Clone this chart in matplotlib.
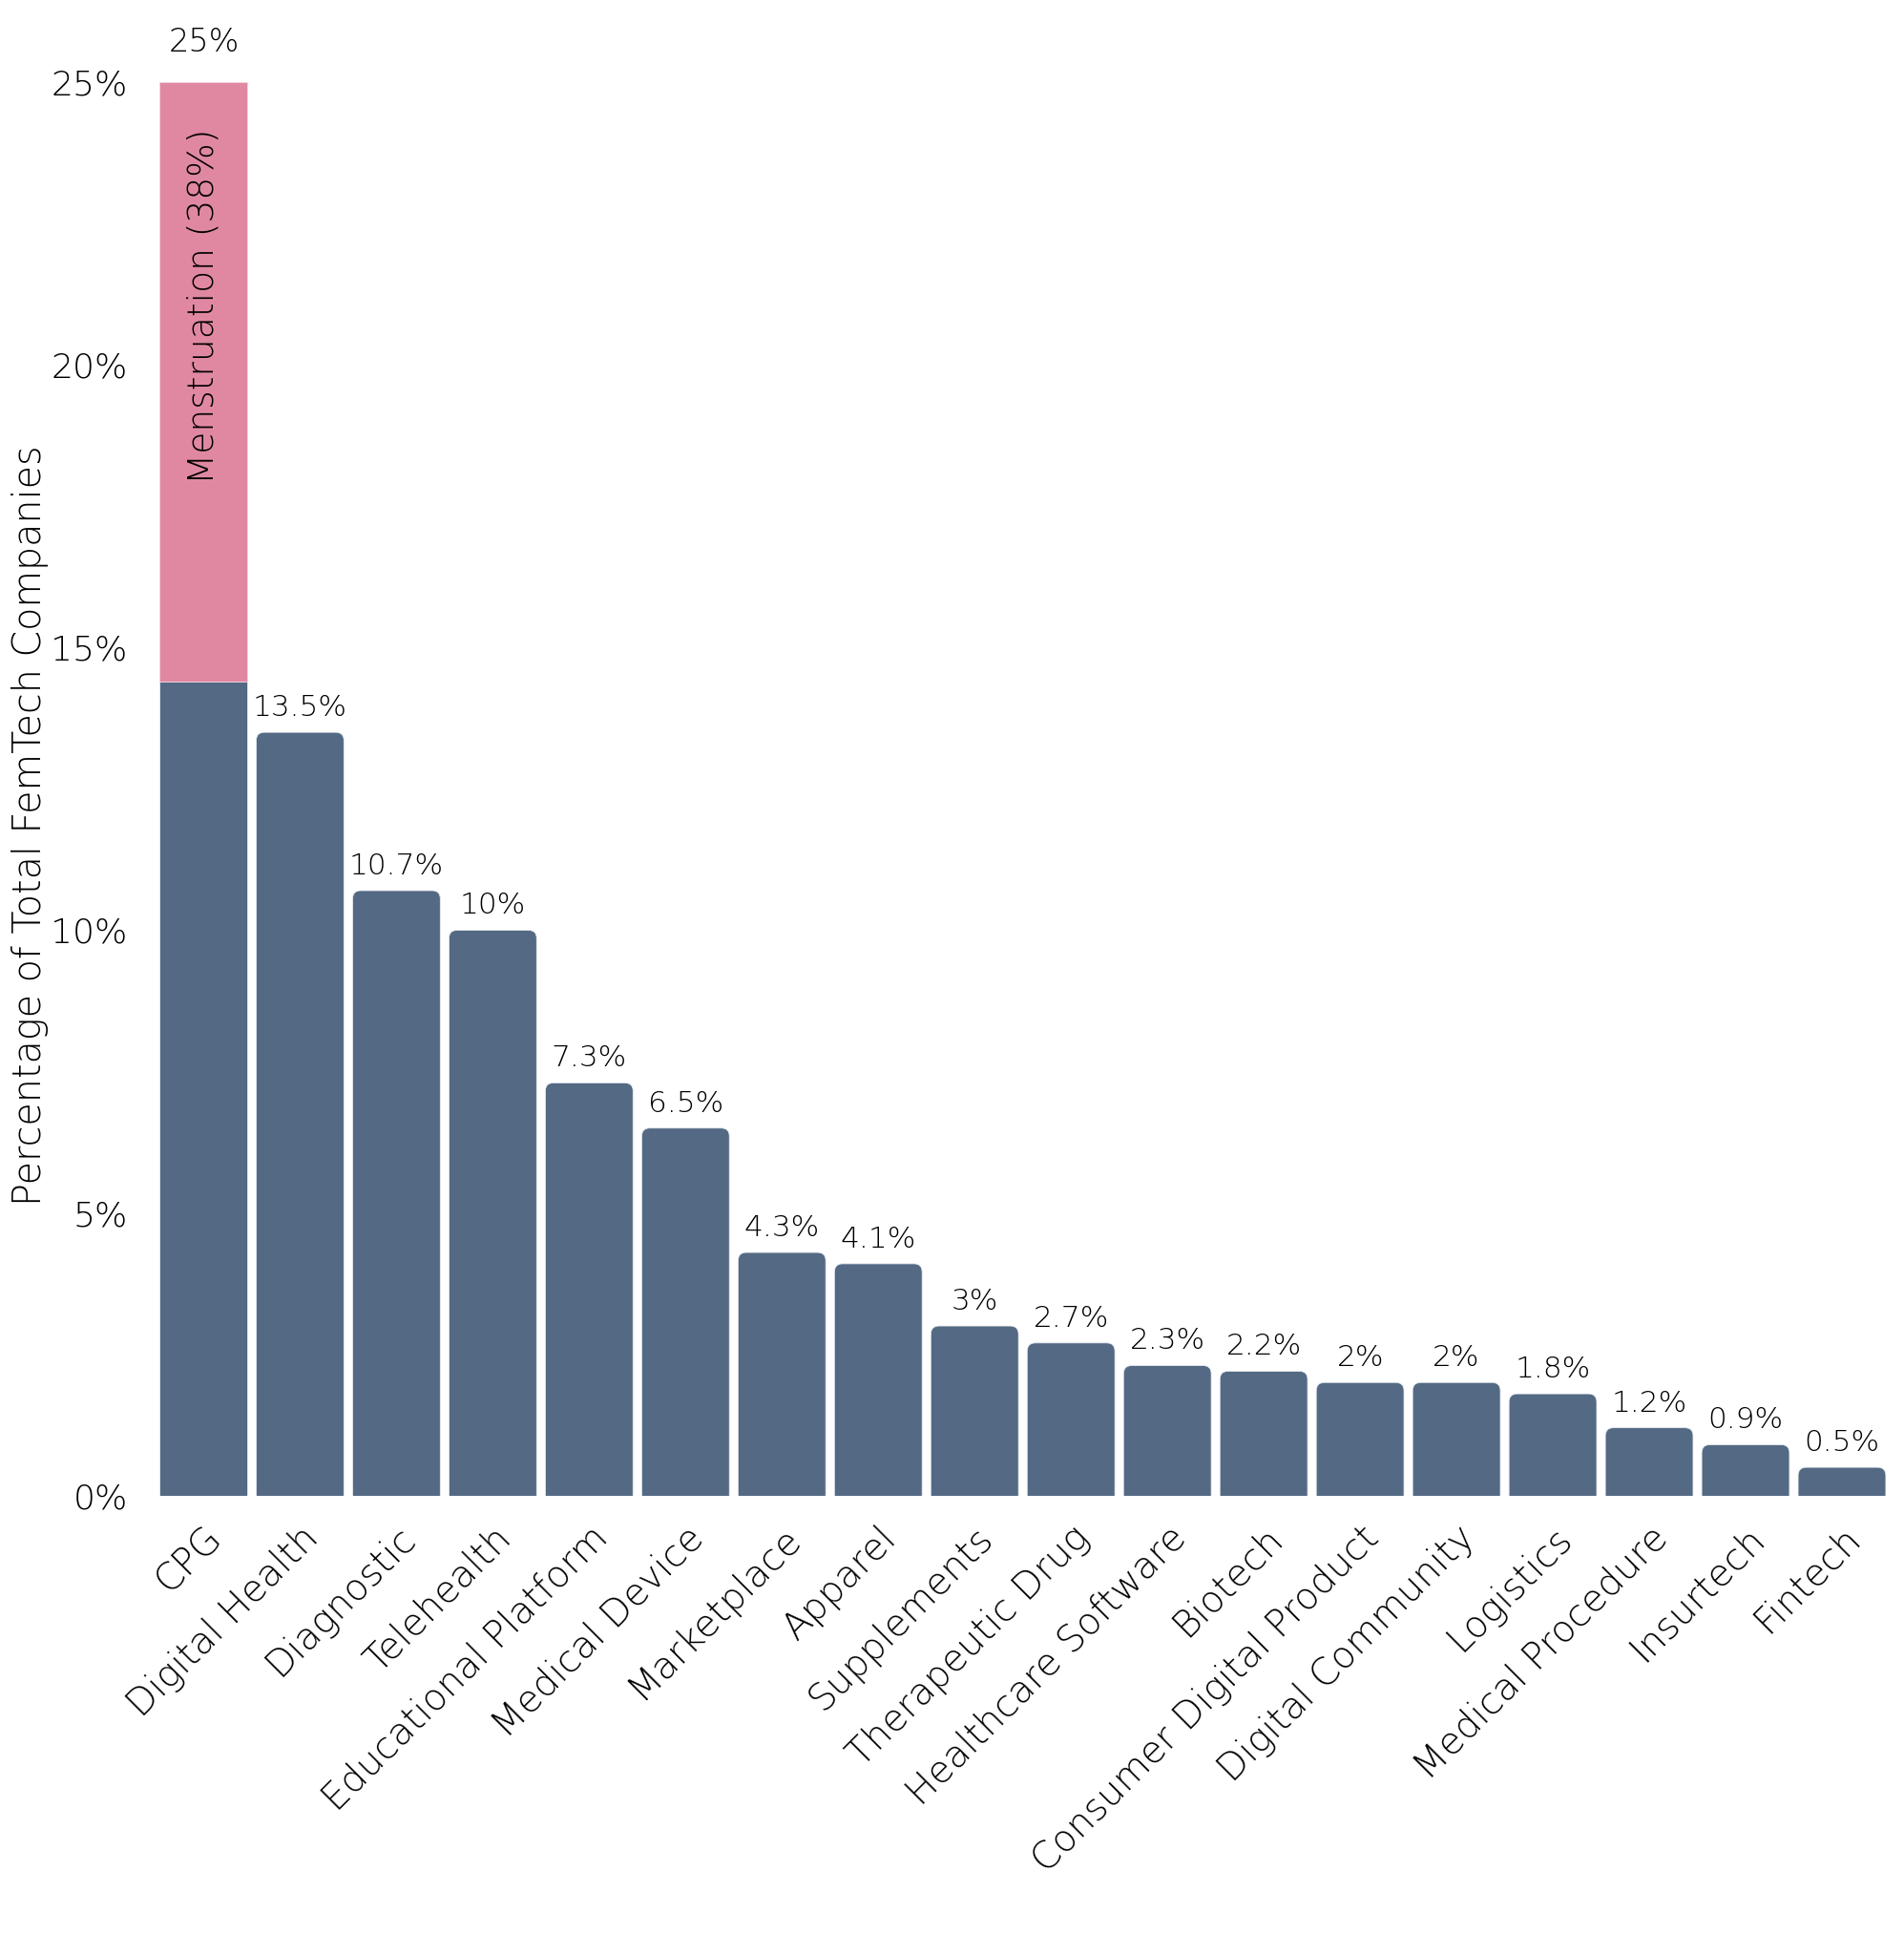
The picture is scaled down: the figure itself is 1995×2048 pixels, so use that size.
import matplotlib
matplotlib.use("Agg")
import matplotlib.pyplot as plt
from matplotlib.patches import FancyBboxPatch

categories = ["CPG", "Digital Health", "Diagnostic", "Telehealth", "Educational Platform",
              "Medical Device", "Marketplace", "Apparel", "Supplements", "Therapeutic Drug",
              "Healthcare Software", "Biotech", "Consumer Digital Product", "Digital Community",
              "Logistics", "Medical Procedure", "Insurtech", "Fintech"]
values = [25, 13.5, 10.7, 10, 7.3, 6.5, 4.3, 4.1, 3, 2.7, 2.3, 2.2, 2, 2, 1.8, 1.2, 0.9, 0.5]
value_labels = ["25%", "13.5%", "10.7%", "10%", "7.3%", "6.5%", "4.3%", "4.1%", "3%", "2.7%",
                "2.3%", "2.2%", "2%", "2%", "1.8%", "1.2%", "0.9%", "0.5%"]
cpg_base = 14.4
cpg_menstruation = 10.6
menstruation_label = "Menstruation (38%)"
yticks = [0, 5, 10, 15, 20, 25]
ytick_labels = ["0%", "5%", "10%", "15%", "20%", "25%"]

BLUE = "#536984"
PINK = "#e088a2"
TXT = "#000000"

plt.rcParams['font.family'] = ['DejaVu Sans']
plt.rcParams['font.weight'] = 'light'

fig = plt.figure(figsize=(19.95, 20.48), dpi=100)
ax = fig.add_axes([0.0837, 0.235, 0.907, 0.723])

x = list(range(len(categories)))
width = 0.91
ax.set_xlim(-0.46, len(categories) - 1 + 0.46)
ax.set_ylim(0, 25)

# CPG stacked bar (square corners)
ax.bar([0], [cpg_base], width=width, color=BLUE, edgecolor="#e8ecf0", linewidth=0.6)
ax.bar([0], [cpg_menstruation], bottom=[cpg_base], width=width, color=PINK,
       edgecolor="#f3d5de", linewidth=0.6)

# other bars with rounded top corners
bars = ax.bar(x[1:], values[1:], width=width, color="none")
r = 0.085
aspect = 1.69
for b in bars:
    x0 = b.get_x()
    w = b.get_width()
    h = b.get_height()
    p = FancyBboxPatch((x0, -1.0), w, h + 1.0,
                       boxstyle=f"round,pad=0,rounding_size={r}",
                       mutation_aspect=aspect, facecolor=BLUE,
                       edgecolor="#e8ecf0", linewidth=0.6, clip_on=True)
    ax.add_patch(p)
    b.remove()

# value labels
for i, (xi, v, lab) in enumerate(zip(x, values, value_labels)):
    off = 18 if i == 0 else 8
    fs = 24 if i == 0 else 22.5
    ax.annotate(lab, (xi, v), xytext=(0, off), textcoords="offset points",
                ha="center", va="bottom", fontsize=fs, color=TXT, fontweight="light")

ax.annotate(menstruation_label, (0, 25), xytext=(0, -35), textcoords="offset points",
            ha="center", va="top", rotation=90, fontsize=27, color=TXT, fontweight="light")

ax.set_yticks(yticks)
ax.set_yticklabels(ytick_labels, fontsize=26, color=TXT, fontweight="light")
ax.set_xticks(x)
ax.set_xticklabels(categories, rotation=45, ha="right", rotation_mode="anchor",
                   fontsize=28, color=TXT, fontweight="light")
ax.tick_params(axis="both", length=0)
ax.tick_params(axis="x", pad=18)
ax.tick_params(axis="y", pad=24)
for s in ax.spines.values():
    s.set_visible(False)

ax.set_ylabel("Percentage of Total FemTech Companies", fontsize=28.5, color=TXT,
              fontweight="light")
ax.yaxis.set_label_coords(-0.064, 0.474)

fig.savefig("out.png", dpi=100, facecolor="white")
